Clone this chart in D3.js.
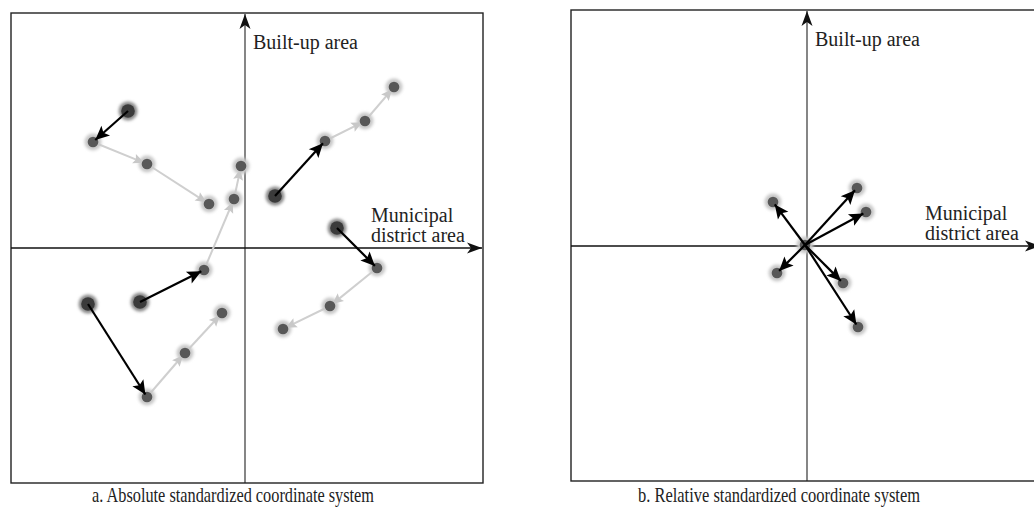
<!DOCTYPE html>
<html>
<head>
<meta charset="utf-8">
<script src="https://cdn.jsdelivr.net/npm/d3@7"></script>
<style>
  body { margin: 0; background: #fff; }
  text { font-family: "Liberation Serif", "DejaVu Serif", serif; fill: #222; }
</style>
</head>
<body>
<script>
/* DATA */
// panel a: each path = start point, then the later positions (standardized units)
const pathA = [[-1.17, 1.37], [-1.52, 1.06], [-0.98, 0.84], [-0.36, 0.44]];
const pathB = [[0.30, 0.52], [0.80, 1.07], [1.20, 1.27], [1.49, 1.61]];
const pathC = [[-1.05, -0.54], [-0.41, -0.22], [-0.11, 0.49], [-0.04, 0.82]];
const pathD = [[0.92, 0.20], [1.32, -0.20], [0.85, -0.58], [0.38, -0.81]];
const pathE = [[-1.57, -0.56], [-0.98, -1.49], [-0.60, -1.05], [-0.23, -0.65]];
const absPaths = [pathA, pathB, pathC, pathD, pathE];

// panel b: shared origin and the arrow ends
const relOrigin = [-0.02, 0.01];
const relEnds = [[-0.34, 0.44], [0.50, 0.58], [0.59, 0.34], [-0.30, -0.27], [0.36, -0.37], [0.51, -0.81]];

const yAxisLabel = "Built-up area";
const xAxisLabel = ["Municipal", "district area"];
const captions = ["a. Absolute standardized coordinate system", "b. Relative standardized coordinate system"];

/* CONSTANTS */
const width = 1034, height = 507;

const svg = d3.select("body").append("svg")
  .attr("width", width)
  .attr("height", height);

const defs = svg.append("defs");

function addHead(id, color, len, half, notch) {
  defs.append("marker")
    .attr("id", id)
    .attr("viewBox", `${-len - 1} ${-half - 1} ${len + 2} ${half * 2 + 2}`)
    .attr("refX", 0).attr("refY", 0)
    .attr("markerWidth", len + 2).attr("markerHeight", half * 2 + 2)
    .attr("markerUnits", "userSpaceOnUse")
    .attr("orient", "auto")
    .append("path")
    .attr("d", `M0,0L${-len},${-half}L${-len + notch},0L${-len},${half}Z`)
    .attr("fill", color);
}
addHead("axisHead", "#111", 15, 5.5, 4);
addHead("blackHead", "#000", 14, 6.5, 3);
addHead("greyHead", "#c8c8c8", 11, 5, 2);

defs.append("filter").attr("id", "soft")
  .attr("x", "-50%").attr("y", "-50%").attr("width", "200%").attr("height", "200%")
  .append("feGaussianBlur").attr("stdDeviation", 1.4);
defs.append("filter").attr("id", "soft2")
  .attr("x", "-50%").attr("y", "-50%").attr("width", "200%").attr("height", "200%")
  .append("feGaussianBlur").attr("stdDeviation", 0.7);

// shorten a segment at its end by d pixels
function trim(x1, y1, x2, y2, d) {
  const len = Math.hypot(x2 - x1, y2 - y1);
  const k = (len - d) / len;
  return [x1 + (x2 - x1) * k, y1 + (y2 - y1) * k];
}

function dot(g, x, y, big) {
  g.append("circle").attr("cx", x).attr("cy", y)
    .attr("r", big ? 9.5 : 8.5)
    .attr("fill", big ? "#8a8a8a" : "#c8c8c8")
    .attr("filter", "url(#soft)");
  g.append("circle").attr("cx", x).attr("cy", y)
    .attr("r", big ? 6.8 : 5.3)
    .attr("fill", big ? "#3a3a3a" : "#595959")
    .attr("filter", "url(#soft2)");
}

function frame(cfg) {
  const xScale = d3.scaleLinear().domain(cfg.xDomain).range([cfg.left, cfg.right]);
  const yScale = d3.scaleLinear().domain(cfg.yDomain).range([cfg.bottom, cfg.top]);
  const g = svg.append("g");

  g.append("rect")
    .attr("x", cfg.left).attr("y", cfg.top)
    .attr("width", cfg.right - cfg.left).attr("height", cfg.bottom - cfg.top)
    .attr("fill", "none").attr("stroke", "#222").attr("stroke-width", 1.4);

  // axes
  g.append("line")
    .attr("x1", xScale(0)).attr("x2", xScale(0))
    .attr("y1", cfg.bottom).attr("y2", cfg.top + 1)
    .attr("stroke", "#222").attr("stroke-width", 1.1)
    .attr("marker-end", "url(#axisHead)");
  g.append("line")
    .attr("x1", cfg.left).attr("x2", cfg.arrowTip)
    .attr("y1", yScale(0)).attr("y2", yScale(0))
    .attr("stroke", "#111").attr("stroke-width", 1.3)
    .attr("marker-end", "url(#axisHead)");

  g.append("text")
    .attr("x", xScale(0) + 8).attr("y", cfg.top + 36)
    .attr("font-size", 20)
    .text(yAxisLabel);
  g.selectAll("text.xlab")
    .data(xAxisLabel)
    .join("text")
    .attr("class", "xlab")
    .attr("x", cfg.xLabelX)
    .attr("y", (d, i) => yScale(0) - 26 + i * 20)
    .attr("font-size", 20)
    .text(d => d);

  g.append("text")
    .attr("x", cfg.captionX).attr("y", 502)
    .attr("font-size", 21)
    .attr("textLength", 282)
    .attr("lengthAdjust", "spacingAndGlyphs")
    .text(cfg.caption);

  return { g, xScale, yScale };
}

/* PANEL A */
const a = frame({
  left: 11, right: 483, top: 13, bottom: 483,
  xDomain: [-2.34, 2.38], yDomain: [-2.35, 2.35],
  arrowTip: 482, xLabelX: 371, captionX: 92, caption: captions[0]
});

const greyLayer = a.g.append("g");
const dotLayer = a.g.append("g");
const blackLayer = a.g.append("g");

absPaths.forEach(path => {
  const pts = path.map(d => [a.xScale(d[0]), a.yScale(d[1])]);
  // later moves, light grey
  for (let i = 1; i < pts.length - 1; i++) {
    const [ex, ey] = trim(pts[i][0], pts[i][1], pts[i + 1][0], pts[i + 1][1], 3);
    greyLayer.append("line")
      .attr("x1", pts[i][0]).attr("y1", pts[i][1])
      .attr("x2", ex).attr("y2", ey)
      .attr("stroke", "#cfcfcf").attr("stroke-width", 2)
      .attr("marker-end", "url(#greyHead)");
  }
  pts.forEach((p, i) => dot(dotLayer, p[0], p[1], i === 0));
  // first move, black
  const [ex, ey] = trim(pts[0][0], pts[0][1], pts[1][0], pts[1][1], 3);
  blackLayer.append("line")
    .attr("x1", pts[0][0]).attr("y1", pts[0][1])
    .attr("x2", ex).attr("y2", ey)
    .attr("stroke", "#000").attr("stroke-width", 2.2)
    .attr("marker-end", "url(#blackHead)");
});

/* PANEL B */
const b = frame({
  left: 571, right: 1042, top: 10, bottom: 481,
  xDomain: [-2.36, 2.35], yDomain: [-2.35, 2.36],
  arrowTip: 1040, xLabelX: 925, captionX: 638, caption: captions[1]
});

const ox = b.xScale(relOrigin[0]), oy = b.yScale(relOrigin[1]);
dot(b.g, ox, oy, false);
relEnds.forEach(d => dot(b.g, b.xScale(d[0]), b.yScale(d[1]), false));
relEnds.forEach(d => {
  const [ex, ey] = trim(ox, oy, b.xScale(d[0]), b.yScale(d[1]), 3);
  b.g.append("line")
    .attr("x1", ox).attr("y1", oy)
    .attr("x2", ex).attr("y2", ey)
    .attr("stroke", "#000").attr("stroke-width", 2.2)
    .attr("marker-end", "url(#blackHead)");
});
</script>
</body>
</html>
